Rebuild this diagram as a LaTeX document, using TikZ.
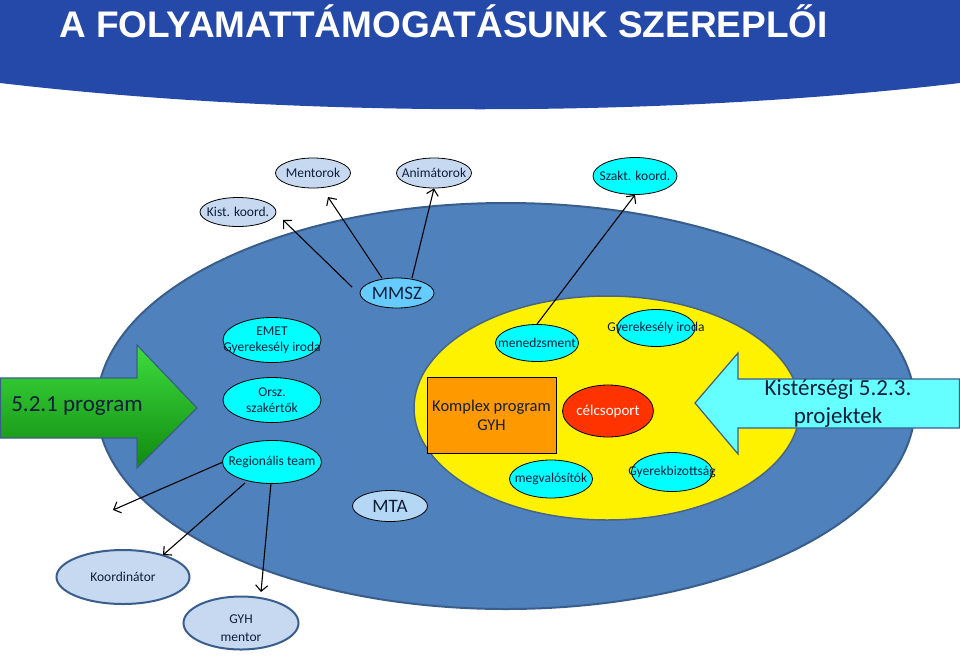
\documentclass[tikz,border=0pt]{standalone}
\usepackage{fontspec}
\setmainfont{Carlito}
\newfontfamily\titlefont{Liberation Sans}
\usetikzlibrary{arrows.meta,shapes.geometric,calc}
\definecolor{banner}{HTML}{2549A9}
\definecolor{mainblue}{HTML}{4F81BD}
\definecolor{bordb}{HTML}{3A5E8C}
\definecolor{lightb}{HTML}{C6D9F1}
\definecolor{mtab}{HTML}{B4D7F5}
\definecolor{cyanf}{HTML}{00FFFF}
\definecolor{skyb}{HTML}{66CCFF}
\definecolor{redf}{HTML}{FF3300}
\definecolor{orangef}{HTML}{FF9900}
\definecolor{txtc}{HTML}{0F1F3A}
\definecolor{greentop}{HTML}{3EDC3E}
\definecolor{greenbot}{HTML}{108A10}
\definecolor{arrcyan}{HTML}{66FFFF}
\newcommand\lblfont{\fontsize{13.5}{16}\selectfont}
\begin{document}
\begin{tikzpicture}[x=1pt,y=-1pt,
  ell/.style={ellipse, draw=black, line width=0.8pt, inner sep=0pt},
  lightell/.style={ell, fill=lightb},
  cyanell/.style={ell, fill=cyanf},
  bigell/.style={ellipse, draw=bordb, line width=2pt, inner sep=0pt, fill=lightb},
  arr/.style={draw=black, line width=1.1pt, -{Straight Barb[length=6pt,width=12pt]}},
  every label/.style={inner sep=0pt, align=center, text=txtc, font=\lblfont},
  bigtext/.style={font=\fontsize{23}{28}\selectfont, text=txtc, align=center, inner sep=0pt}
]
\useasboundingbox (0,0) rectangle (960,656);
\fill[white] (0,0) rectangle (960,656);

% banner
\fill[banner] (0,0) -- (960,0) -- (960,83) .. controls (660,118) and (300,118) .. (0,83) -- cycle;
\node[font=\titlefont\bfseries\fontsize{37}{40}\selectfont, text=white, anchor=base west, inner sep=0pt] (title) at (59,37) {A FOLYAMATTÁMOGATÁSUNK SZEREPLŐI};

% big ellipses
\draw[draw=bordb, line width=2pt, fill=mainblue] (506,406) ellipse [x radius=409, y radius=203];
\draw[draw=bordb!80!gray, line width=1.5pt, fill=yellow] (607,408) ellipse [x radius=193, y radius=112];

% green arrow
\draw[draw=bordb, line width=1.2pt, top color=greentop, bottom color=greenbot]
  (0.5,378) -- (137,378) -- (137,345) -- (197,408) -- (137,468) -- (137,438) -- (0.5,438) -- cycle;
\node[bigtext] (prog521) at (77,406) {5.2.1 program};

% cyan arrow
\draw[draw=bordb, line width=1.2pt, fill=arrcyan]
  (959.5,379) -- (738,379) -- (738,353) -- (695,403) -- (738,454) -- (738,428) -- (959.5,428) -- cycle;
\node[bigtext] (kist523) at (838,404) {Kistérségi 5.2.3.\\projektek};

% top ellipses
\node[lightell, minimum width=76pt, minimum height=29pt, label={center:Kist. koord.}] (kist) at (238,212) {};
\node[lightell, minimum width=75pt, minimum height=30pt, label={center:Mentorok}] (ment) at (313,173) {};
\node[lightell, minimum width=75pt, minimum height=30pt, label={center:Animátorok}] (anim) at (434,173) {};
\node[cyanell, minimum width=84pt, minimum height=37pt, label={center:Szakt. koord.}] (szakt) at (635,176) {};
\node[ell, fill=skyb, minimum width=74pt, minimum height=30pt, label={[font=\fontsize{19}{22}\selectfont]center:MMSZ}] (mmsz) at (397,293) {};

% left column
\node[cyanell, minimum width=98pt, minimum height=45pt, label={center:EMET\\Gyerekesély iroda}] (emet) at (272,340) {};
\node[cyanell, minimum width=98pt, minimum height=45pt, label={center:Orsz.\\szakértők}] (orsz) at (272,400) {};
\node[cyanell, minimum width=99pt, minimum height=43pt, label={center:Regionális team}] (reg) at (272,462) {};

% inner nodes
\node[cyanell, minimum width=83pt, minimum height=37pt, label={center:menedzsment}] (mened) at (537,343) {};
\node[cyanell, minimum width=78pt, minimum height=37pt, label={center:Gyerekesély iroda}] (gyi) at (656,328) {};
\node[draw=black, line width=0.8pt, fill=orangef, minimum width=129pt, minimum height=76pt, inner sep=0pt,
      align=center, text=txtc, font=\fontsize{16.5}{19}\selectfont] (komplex) at (491.5,415) {Komplex program\\GYH};
\node[ell, fill=redf, minimum width=91pt, minimum height=52pt,
      label={[text=white, font=\fontsize{15}{17}\selectfont]center:célcsoport}] (celcs) at (608,411) {};
\node[cyanell, minimum width=83pt, minimum height=38pt, label={center:megvalósítók}] (megv) at (551,479) {};
\node[cyanell, minimum width=81pt, minimum height=39pt, label={center:Gyerekbizottság}] (gyb) at (672,472) {};
\node[ell, fill=mtab, minimum width=75pt, minimum height=31pt, label={[font=\fontsize{19}{22}\selectfont]center:MTA}] (mta) at (390,506) {};

% bottom nodes
\node[bigell, minimum width=133pt, minimum height=54pt, label={center:Koordinátor}] (koord) at (123,577) {};
\node[bigell, minimum width=115pt, minimum height=53pt, label={[font=\fontsize{13.5}{18}\selectfont, yshift=-5pt]center:GYH\\mentor}] (gyhm) at (241,623) {};

% connector end points
\coordinate (mmszA) at ($(mmsz)+(-45,-6)$);
\coordinate (mmszB) at ($(mmsz)+(-15,-15)$);
\coordinate (mmszC) at ($(mmsz)+(15,-15)$);
\coordinate (kistTip) at ($(kist)+(45,8)$);
\coordinate (mentTip) at ($(ment)+(15,24)$);
\coordinate (regA) at ($(reg)+(-49,0)$);
\coordinate (regB) at ($(reg)+(-27,21)$);
\coordinate (regC) at ($(reg)+(-1,21)$);
\coordinate (freeTip) at ($(reg)+(-159,48)$);
\coordinate (koordTip) at ($(koord)+(40,-22)$);
\coordinate (gyhmTip) at ($(gyhm)+(20,-31)$);

% connectors
\draw[arr] (mmszA) -- (kistTip);
\draw[arr] (mmszB) -- (mentTip);
\draw[arr] (mmszC) -- (anim.south);
\draw[arr] (mened.north) -- (szakt.south);
\draw[arr] (regA) -- (freeTip);
\draw[arr] (regB) -- (koordTip);
\draw[arr] (regC) -- (gyhmTip);
\end{tikzpicture}
\end{document}
